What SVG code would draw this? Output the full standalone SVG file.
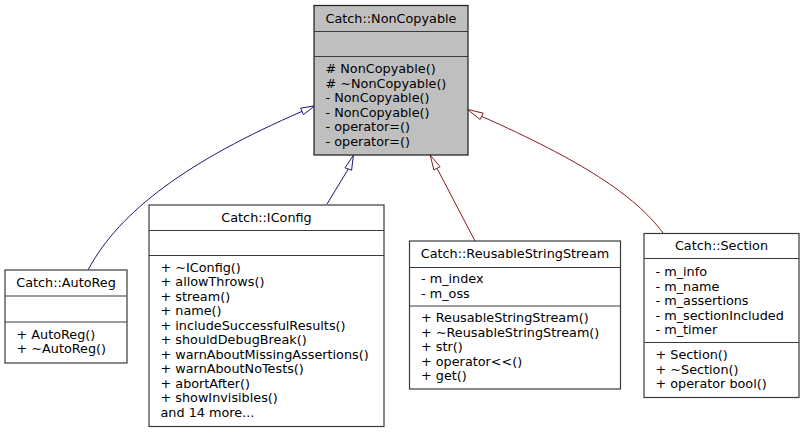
<svg xmlns="http://www.w3.org/2000/svg" width="804" height="433" viewBox="0 0 804 433">
  <style>
    .box { fill: #ffffff; stroke: #3a3a3a; stroke-width: 1.2; }
    .base { fill: #bfbfbf; stroke: #1a1a1a; stroke-width: 1.2; }
    .sep { stroke: #3a3a3a; stroke-width: 1.2; }
    text { font-family: "DejaVu Sans", "Liberation Sans", sans-serif; font-size: 12.8px; fill: #000000; }
    .title { text-anchor: middle; }
    .pub { fill: none; stroke: #191970; stroke-width: 1; }
    .pubhead { fill: #ffffff; stroke: #191970; stroke-width: 1; }
    .prot { fill: none; stroke: #8b1a1a; stroke-width: 1; }
    .prothead { fill: #ffffff; stroke: #8b1a1a; stroke-width: 1; }
  </style>
  <rect width="804" height="433" fill="#ffffff"/>

  <!-- inheritance edges -->
  <g id="edges">
    <path class="pub" d="M88,270 C120,210 190,160 302,111.4"/>
    <polygon class="pubhead" points="315,105.7 300.6,108.2 303.4,114.6"/>

    <path class="pub" d="M327,204 L348.3,169"/>
    <polygon class="pubhead" points="353.4,155.3 345,167.8 351.6,170.2"/>

    <path class="prot" d="M475,241 L437,168.3"/>
    <polygon class="prothead" points="430.2,155.2 433.9,169.9 440.1,166.7"/>

    <path class="prot" d="M663,233 C635,195 580,160 481.7,116.4"/>
    <polygon class="prothead" points="467.3,109.3 483.2,113.2 480.1,119.5"/>
  </g>

  <!-- Catch::NonCopyable -->
  <g id="NonCopyable">
    <rect class="base" x="314" y="5.5" width="154" height="149.5"/>
    <line class="sep" x1="314" y1="31.5" x2="468" y2="31.5"/>
    <line class="sep" x1="314" y1="56.5" x2="468" y2="56.5"/>
    <text class="title" x="391" y="22.7">Catch::NonCopyable</text>
    <text x="325.5" y="73">
      <tspan x="325.5" dy="0"># NonCopyable()</tspan>
      <tspan x="325.5" dy="14.5"># ~NonCopyable()</tspan>
      <tspan x="325.5" dy="14.5">- NonCopyable()</tspan>
      <tspan x="325.5" dy="14.5">- NonCopyable()</tspan>
      <tspan x="325.5" dy="14.5">- operator=()</tspan>
      <tspan x="325.5" dy="14.5">- operator=()</tspan>
    </text>
  </g>

  <!-- Catch::AutoReg -->
  <g id="AutoReg">
    <rect class="box" x="5" y="270" width="122" height="93"/>
    <line class="sep" x1="5" y1="296" x2="127" y2="296"/>
    <line class="sep" x1="5" y1="322" x2="127" y2="322"/>
    <text class="title" x="66" y="287">Catch::AutoReg</text>
    <text x="16.5" y="338.5">
      <tspan x="16.5" dy="0">+ AutoReg()</tspan>
      <tspan x="16.5" dy="14.5">+ ~AutoReg()</tspan>
    </text>
  </g>

  <!-- Catch::IConfig -->
  <g id="IConfig">
    <rect class="box" x="149" y="205" width="235" height="221.5"/>
    <line class="sep" x1="149" y1="230.5" x2="384" y2="230.5"/>
    <line class="sep" x1="149" y1="255.5" x2="384" y2="255.5"/>
    <text class="title" x="266.5" y="222">Catch::IConfig</text>
    <text x="160.5" y="271.5">
      <tspan x="160.5" dy="0">+ ~IConfig()</tspan>
      <tspan x="160.5" dy="14.5">+ allowThrows()</tspan>
      <tspan x="160.5" dy="14.5">+ stream()</tspan>
      <tspan x="160.5" dy="14.5">+ name()</tspan>
      <tspan x="160.5" dy="14.5">+ includeSuccessfulResults()</tspan>
      <tspan x="160.5" dy="14.5">+ shouldDebugBreak()</tspan>
      <tspan x="160.5" dy="14.5">+ warnAboutMissingAssertions()</tspan>
      <tspan x="160.5" dy="14.5">+ warnAboutNoTests()</tspan>
      <tspan x="160.5" dy="14.5">+ abortAfter()</tspan>
      <tspan x="160.5" dy="14.5">+ showInvisibles()</tspan>
      <tspan x="160.5" dy="14.5">and 14 more...</tspan>
    </text>
  </g>

  <!-- Catch::ReusableStringStream -->
  <g id="ReusableStringStream">
    <rect class="box" x="409.5" y="241" width="211" height="148"/>
    <line class="sep" x1="409.5" y1="267.5" x2="620.5" y2="267.5"/>
    <line class="sep" x1="409.5" y1="306" x2="620.5" y2="306"/>
    <text class="title" x="515" y="258">Catch::ReusableStringStream</text>
    <text x="421" y="283">
      <tspan x="421" dy="0">- m_index</tspan>
      <tspan x="421" dy="14.5">- m_oss</tspan>
    </text>
    <text x="421" y="322">
      <tspan x="421" dy="0">+ ReusableStringStream()</tspan>
      <tspan x="421" dy="14.5">+ ~ReusableStringStream()</tspan>
      <tspan x="421" dy="14.5">+ str()</tspan>
      <tspan x="421" dy="14.5">+ operator&lt;&lt;()</tspan>
      <tspan x="421" dy="14.5">+ get()</tspan>
    </text>
  </g>

  <!-- Catch::Section -->
  <g id="Section">
    <rect class="box" x="644" y="233.5" width="155" height="164"/>
    <line class="sep" x1="644" y1="258.5" x2="799" y2="258.5"/>
    <line class="sep" x1="644" y1="342.5" x2="799" y2="342.5"/>
    <text class="title" x="721.5" y="250">Catch::Section</text>
    <text x="655.5" y="276">
      <tspan x="655.5" dy="0">- m_info</tspan>
      <tspan x="655.5" dy="14.5">- m_name</tspan>
      <tspan x="655.5" dy="14.5">- m_assertions</tspan>
      <tspan x="655.5" dy="14.5">- m_sectionIncluded</tspan>
      <tspan x="655.5" dy="14.5">- m_timer</tspan>
    </text>
    <text x="655.5" y="359">
      <tspan x="655.5" dy="0">+ Section()</tspan>
      <tspan x="655.5" dy="14.5">+ ~Section()</tspan>
      <tspan x="655.5" dy="14.5">+ operator bool()</tspan>
    </text>
  </g>
</svg>
